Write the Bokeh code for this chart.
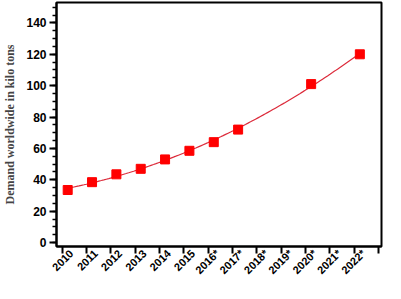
import numpy as np
from bokeh.plotting import figure
from bokeh.models import Range1d, FixedTicker, SingleIntervalTicker, ColumnDataSource, LinearAxis
from bokeh.embed import file_html
from bokeh.resources import INLINE

# data
years = [2010, 2011, 2012, 2013, 2014, 2015, 2016, 2017, 2020, 2022]
demand = [33.5, 38.5, 43.5, 47, 53, 58.5, 64, 72, 101, 120]
tick_years = list(range(2010, 2024))
tick_labels = ["2010", "2011", "2012", "2013", "2014", "2015", "2016*", "2017*",
               "2018*", "2019*", "2020*", "2021*", "2022*", ""]

OFFSET = 0.23        # markers sit slightly right of ticks in the reference
LABEL_OFFSET = 0.38  # rotated labels sit right of their tick
Y0, Y1 = -2.5, 153

p = figure(width=385, height=283, output_backend="svg", toolbar_location=None,
           x_range=Range1d(2009.77, 2023.12), y_range=Range1d(Y0, Y1),
           min_border_left=44, min_border_top=2, min_border_right=4, min_border_bottom=10)
p.background_fill_color = "white"
p.border_fill_color = "white"
p.outline_line_color = "black"
p.outline_line_width = 2
p.xgrid.visible = False
p.ygrid.visible = False

# fitted trend (quadratic least-squares through the data)
coef = np.polyfit(np.array(years, float), np.array(demand, float), 2)
xf = np.linspace(2009.85, 2022.0, 120)
p.line(xf + OFFSET, np.polyval(coef, xf), line_color="#DC2A3A", line_width=1.2)

src = ColumnDataSource(dict(x=np.array(years, float) + OFFSET, y=demand))
p.scatter("x", "y", source=src, marker="square", size=9, fill_color="#FF0000",
          line_color="#FF0000")

# x axis: tick marks only
xa = p.xaxis[0]
xa.ticker = FixedTicker(ticks=tick_years)
xa.major_label_overrides = {t: "" for t in tick_years}
xa.major_label_text_font_size = "1px"
xa.major_label_standoff = 0
xa.major_tick_in = 0
xa.major_tick_out = 7
xa.major_tick_line_width = 2
xa.minor_tick_line_color = None
xa.axis_line_width = 2

# second x axis: the rotated labels, placed like the reference
lab_pos = [round(t + LABEL_OFFSET, 2) for t, l in zip(tick_years, tick_labels) if l]
lab_txt = [l for l in tick_labels if l]
xl = LinearAxis(ticker=FixedTicker(ticks=lab_pos),
                major_label_overrides={pos: l for pos, l in zip(lab_pos, lab_txt)},
                major_label_orientation=np.pi / 4,
                major_label_text_font="Liberation Sans",
                major_label_text_font_style="bold",
                major_label_text_font_size="11px",
                major_label_text_color="black",
                major_label_standoff=-2,
                axis_line_color=None, major_tick_line_color=None,
                minor_tick_line_color=None, major_tick_in=0, major_tick_out=0)
p.add_layout(xl, "below")

# y axis
ya = p.yaxis[0]
ya.ticker = SingleIntervalTicker(interval=20, num_minor_ticks=4)
ya.major_label_text_font = "Liberation Sans"
ya.major_label_text_font_style = "bold"
ya.major_label_text_font_size = "12px"
ya.major_label_text_color = "black"
ya.major_tick_in = 0
ya.major_tick_out = 7
ya.major_tick_line_width = 2
ya.minor_tick_in = 0
ya.minor_tick_out = 4
ya.minor_tick_line_width = 1.5
ya.axis_line_width = 2
ya.major_label_standoff = 3
ya.axis_label = "Demand worldwide in kilo tons"
ya.axis_label_text_font = "Liberation Serif"
ya.axis_label_text_font_style = "bold"
ya.axis_label_text_font_size = "12px"
ya.axis_label_standoff = 6

open("out.html", "w").write(file_html(p, INLINE))
